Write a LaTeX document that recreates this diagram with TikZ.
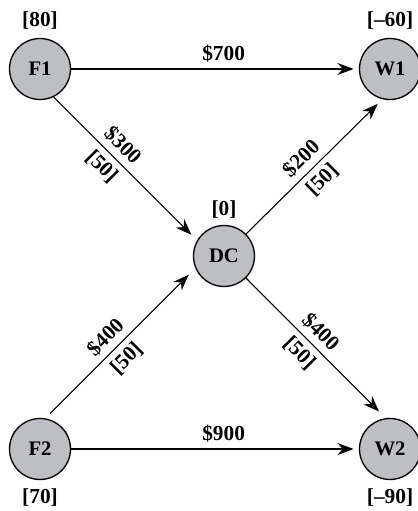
\documentclass[tikz,border=0pt]{standalone}
\usepackage{fontspec}
\setmainfont{Liberation Serif}
\usetikzlibrary{arrows.meta,positioning}
\definecolor{nodegray}{RGB}{190,191,195}
\tikzset{
  site/.style={circle, draw, line width=1pt, fill=nodegray, minimum size=45.75pt,
    inner sep=0pt, font=\bfseries\fontsize{15.5}{18}\selectfont},
  supply/.style={font=\bfseries\fontsize{16}{18}\selectfont, inner sep=3pt},
  flow/.style={->, line width=0.8pt},
  cost/.style={above, font=\bfseries\fontsize{16}{18}\selectfont, inner sep=4.5pt},
  capac/.style={below, font=\bfseries\fontsize{16}{18}\selectfont, inner sep=4.5pt}
}
\begin{document}
\begin{tikzpicture}[>={Stealth[length=12pt,width=9pt]}, x=7.5pt, y=7.5pt]
        \useasboundingbox (0,0) rectangle (41.8,51.1);

        % Nodi della rete
        \node[site] (F1) at (4,44.2) {F1};
        \node[site] (W1) at (39,44.2) {W1};
        \node[site] (DC) at (22.4,25.5) {DC};
        \node[site] (F2) at (4,6.2) {F2};
        \node[site] (W2) at (39,6.2) {W2};

        % Offerte e domande
        \node[supply, above=3.5pt of F1] (sF1) {[80]};
        \node[supply, above=3.5pt of W1] (sW1) {[--60]};
        \node[supply, above=1.5pt of DC] (sDC) {[0]};
        \node[supply, below=3.5pt of F2] (sF2) {[70]};
        \node[supply, below=3.5pt of W2] (sW2) {[--90]};

        % Archi con costo e capacita
        \draw[flow, shorten >=4pt] (F1) -- (W1) node[cost, pos=.53] {\$700};
        \draw[flow, shorten >=4pt] (F2) -- (W2) node[cost, pos=.53] {\$900};
        \draw[flow, shorten >=6pt] (F1.-64) -- (DC.150)
            node[cost, sloped, pos=.41] {\$300} node[capac, sloped, pos=.41] {[50]};
        \draw[flow, shorten >=5pt] (DC.45) -- (W1.-104)
            node[cost, sloped, pos=.48] {\$200} node[capac, sloped, pos=.48] {[50]};
        \draw[flow, shorten <=5pt, shorten >=7pt] (F2.80) -- (DC.203)
            node[cost, sloped, pos=.47] {\$400} node[capac, sloped, pos=.47] {[50]};
        \draw[flow, shorten >=7pt] (DC.-45) -- (W2.98)
            node[cost, sloped, pos=.46] {\$400} node[capac, sloped, pos=.46] {[50]};
\end{tikzpicture}
\end{document}
